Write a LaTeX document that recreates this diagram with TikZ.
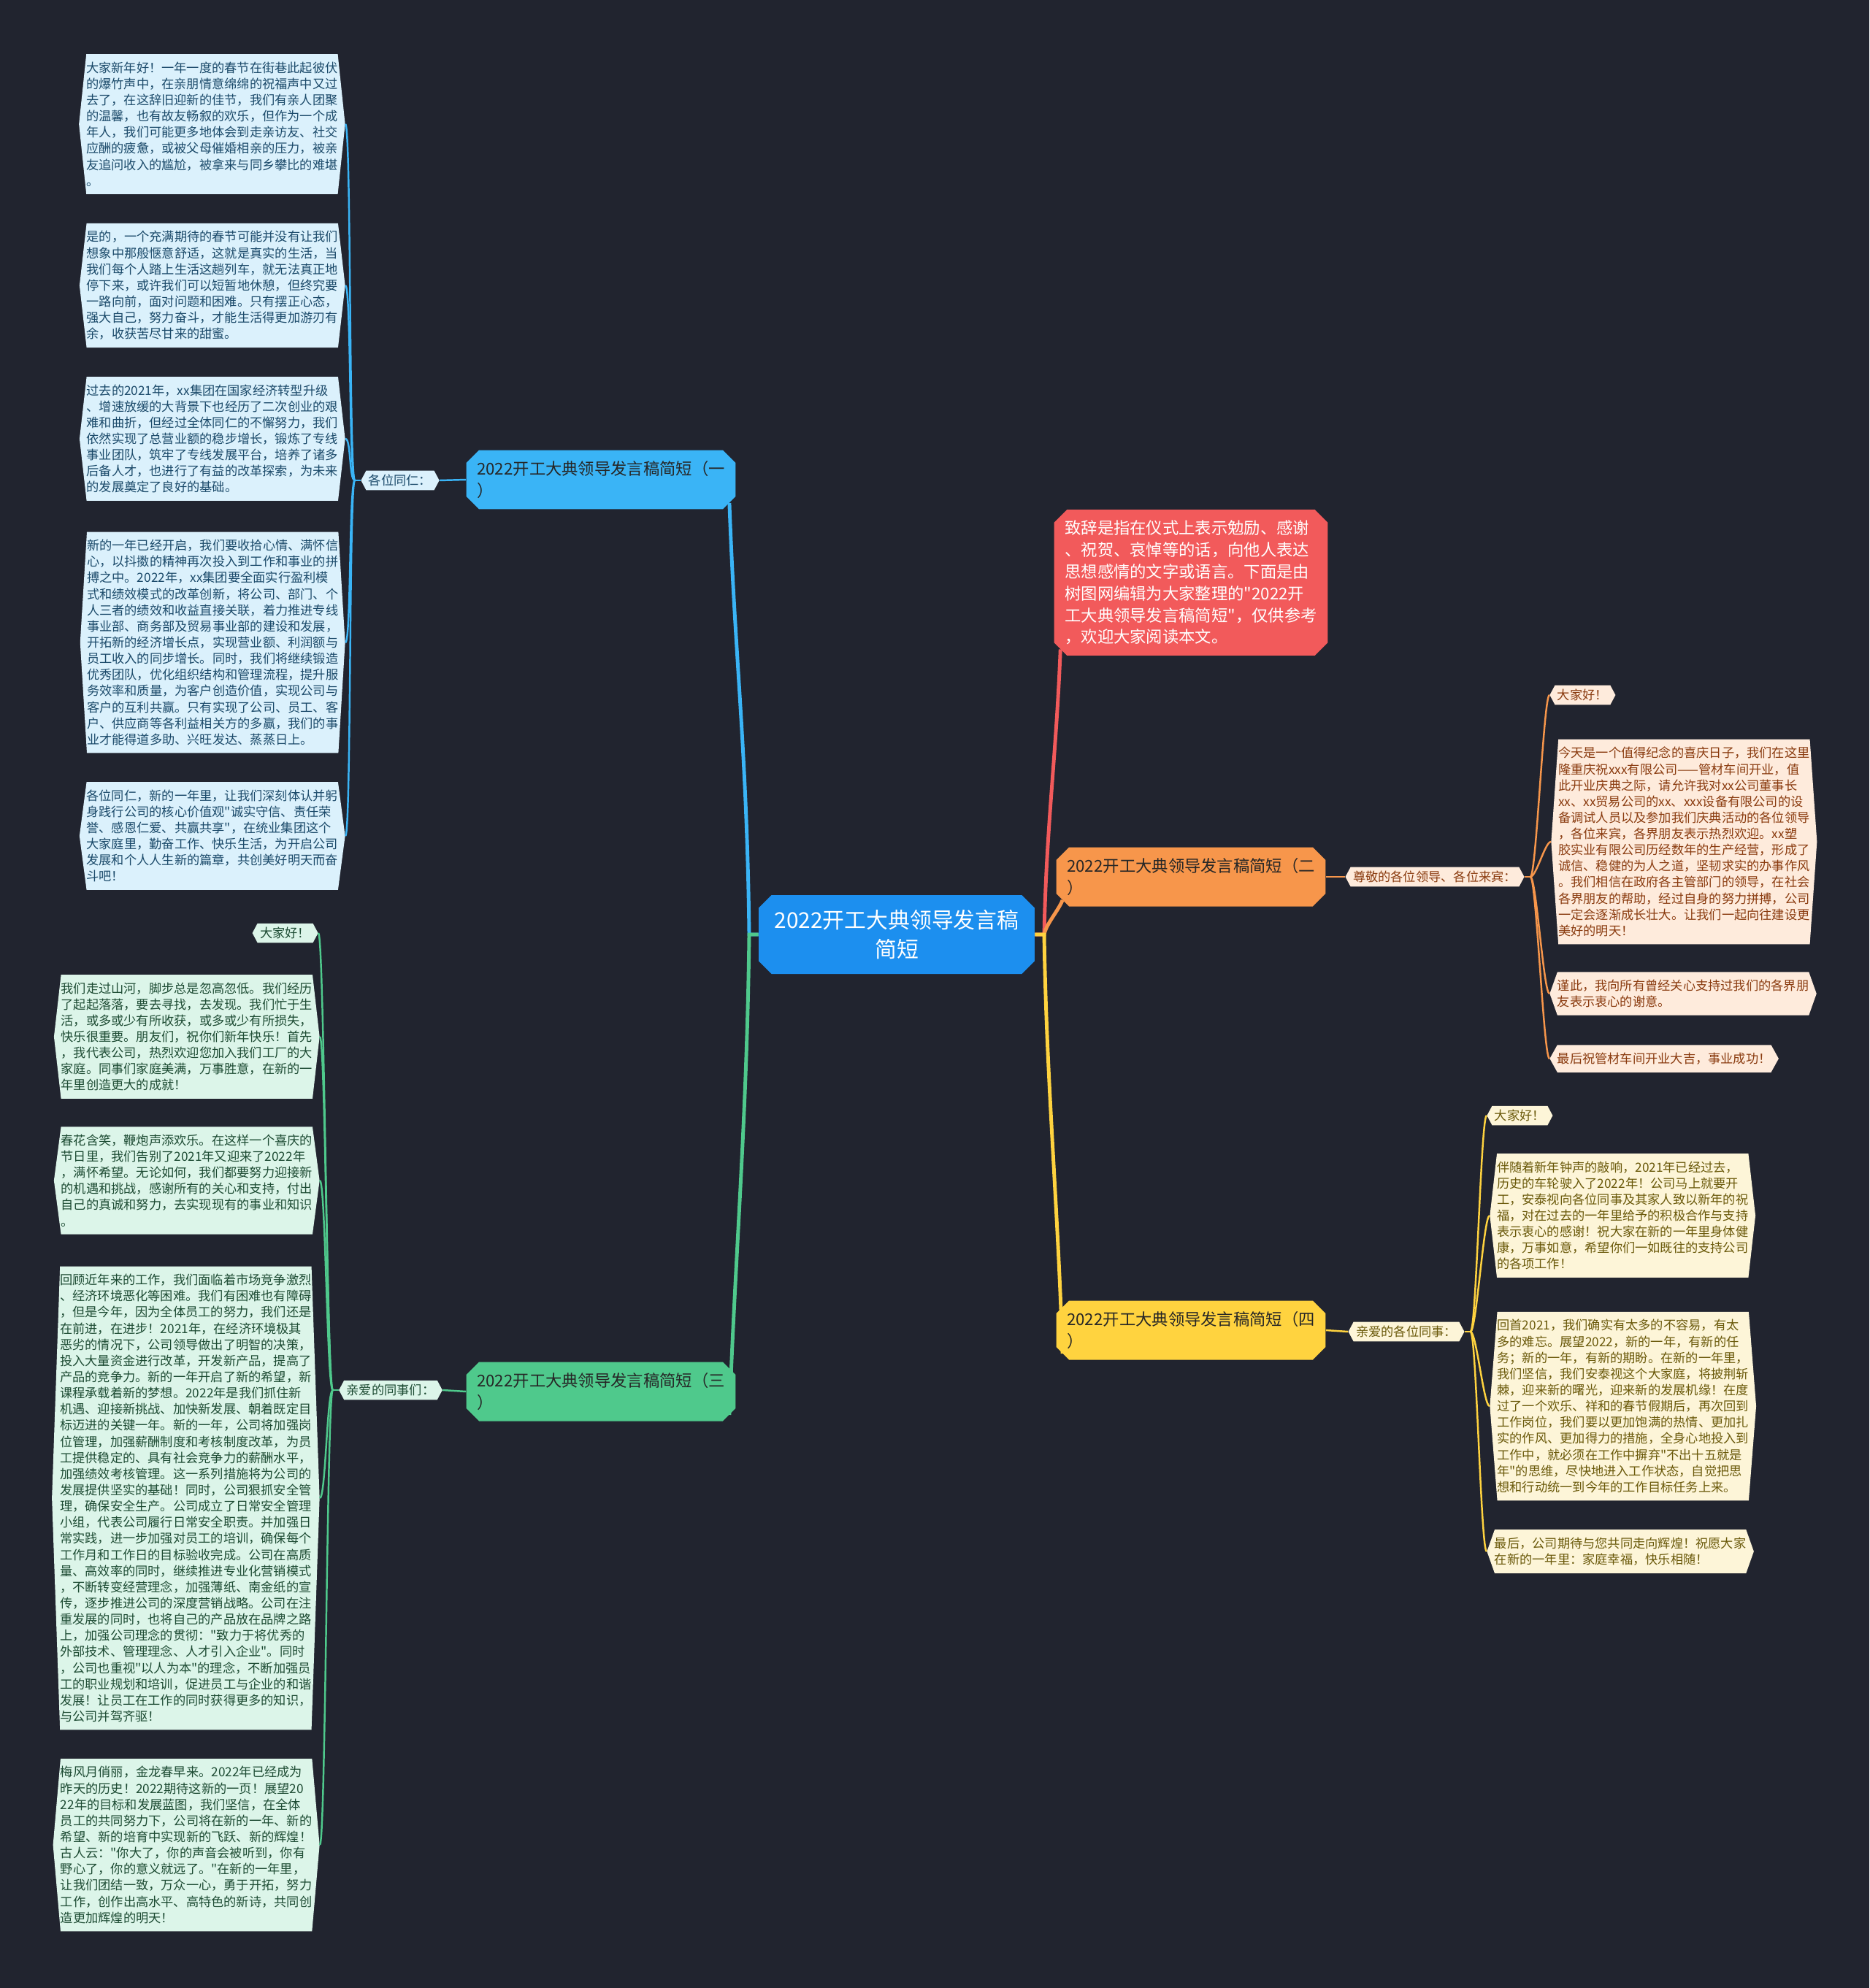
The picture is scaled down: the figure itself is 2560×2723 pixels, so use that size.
\documentclass[tikz,border=0pt]{standalone}
\usepackage{fontspec}
\setmainfont{Noto Sans CJK SC}[Ligatures=TeXOff]
\usepackage{tikz}
\usetikzlibrary{calc,shapes.misc,shapes.symbols}
\definecolor{bgdark}{HTML}{21242F}
\definecolor{rootblue}{HTML}{1C8FEF}
\definecolor{cBlue}{HTML}{3AB4F6}
\definecolor{cOrange}{HTML}{F7964B}
\definecolor{cRed}{HTML}{F25A5B}
\definecolor{cGreen}{HTML}{4FC98C}
\definecolor{cYellow}{HTML}{FFD33F}
\definecolor{fBlue}{HTML}{DBF1FC}
\definecolor{fGreen}{HTML}{DCF5E9}
\definecolor{fOrange}{HTML}{FEEBDC}
\definecolor{fYellow}{HTML}{FDF5D8}
\definecolor{tBlue}{HTML}{1B4A6A}
\definecolor{tGreen}{HTML}{1D4B33}
\definecolor{tOrange}{HTML}{8A3B0F}
\definecolor{tYellow}{HTML}{6A590A}
\newcommand{\leafsize}{\fontsize{9.8pt}{12.6pt}\selectfont}
\tikzset{
  root/.style   = {chamfered rectangle, chamfered rectangle xsep=5pt,
                   chamfered rectangle ysep=5pt, fill=rootblue, text=white,
                   font=\fontsize{17pt}{22.7pt}\selectfont, align=center,
                   minimum width=7.56cm, minimum height=2.16cm},
  branch/.style = {chamfered rectangle, chamfered rectangle xsep=5pt,
                   chamfered rectangle ysep=5pt, fill=#1, align=left,
                   font=\fontsize{12.7pt}{17pt}\selectfont, text=black!85,
                   minimum width=7.36cm, minimum height=1.62cm},
  leaf/.style n args = {3}{signal, signal to=east and west,
                   signal pointer angle=#1, fill=#2, text=#3,
                   font=\leafsize, align=left, inner xsep=0pt, inner ysep=6pt},
  tag/.style 2 args = {signal, signal to=east and west, signal pointer angle=124,
                   fill=#1, text=#2, font=\leafsize, inner xsep=2pt, inner ysep=3pt},
  link/.style   = {line width=2.8pt},
  twig/.style   = {line width=1.4pt},
}

\begin{document}
\begin{tikzpicture}[x=0.02cm,y=-0.02cm]
\useasboundingbox (0,0) rectangle (2560,2723);
\fill[bgdark] (0,0) rectangle (2560,2723);

% centre and main branches
\node[root] (root) at (1228,1280) {2022开工大典领导发言稿\\简短};
\node[branch=cBlue] (b1) at (823,657) {2022开工大典领导发言稿简短（一\\）};
\node[branch=cRed, text=white, minimum height=4cm] (note) at (1631,798)
  {致辞是指在仪式上表示勉励、感谢\\、祝贺、哀悼等的话，向他人表达\\思想感情的文字或语言。下面是由\\树图网编辑为大家整理的"2022开\\工大典领导发言稿简短"，仅供参考\\，欢迎大家阅读本文。};
\node[branch=cOrange] (b2) at (1631,1201) {2022开工大典领导发言稿简短（二\\）};
\node[branch=cGreen] (b3) at (823,1906) {2022开工大典领导发言稿简短（三\\）};
\node[branch=cYellow] (b4) at (1631,1822) {2022开工大典领导发言稿简短（四\\）};

\node[tag={fBlue}{tBlue}] (t1) at (548,658) {各位同仁：};
\node[tag={fOrange}{tOrange}] (t2) at (1965,1201) {尊敬的各位领导、各位来宾：};
\node[tag={fGreen}{tGreen}] (t3) at (535,1904) {亲爱的同事们：};
\node[tag={fYellow}{tYellow}] (t4) at (1926,1824) {亲爱的各位同事：};

% (一)
\node[leaf={168}{fBlue}{tBlue}, anchor=east] (a1) at (473,170)
  {大家新年好！一年一度的春节在街巷此起彼伏\\的爆竹声中，在亲朋情意绵绵的祝福声中又过\\去了，在这辞旧迎新的佳节，我们有亲人团聚\\的温馨，也有故友畅叙的欢乐，但作为一个成\\年人，我们可能更多地体会到走亲访友、社交\\应酬的疲惫，或被父母催婚相亲的压力，被亲\\友追问收入的尴尬，被拿来与同乡攀比的难堪\\。};
\node[leaf={167}{fBlue}{tBlue}, anchor=east] (a2) at (473,391)
  {是的，一个充满期待的春节可能并没有让我们\\想象中那般惬意舒适，这就是真实的生活，当\\我们每个人踏上生活这趟列车，就无法真正地\\停下来，或许我们可以短暂地休憩，但终究要\\一路向前，面对问题和困难。只有摆正心态，\\强大自己，努力奋斗，才能生活得更加游刃有\\余，收获苦尽甘来的甜蜜。};
\node[leaf={167}{fBlue}{tBlue}, anchor=east] (a3) at (473,601)
  {过去的2021年，xx集团在国家经济转型升级\\、增速放缓的大背景下也经历了二次创业的艰\\难和曲折，但经过全体同仁的不懈努力，我们\\依然实现了总营业额的稳步增长，锻炼了专线\\事业团队，筑牢了专线发展平台，培养了诸多\\后备人才，也进行了有益的改革探索，为未来\\的发展奠定了良好的基础。};
\node[leaf={173}{fBlue}{tBlue}, anchor=east] (a4) at (473,880)
  {新的一年已经开启，我们要收拾心情、满怀信\\心，以抖擞的精神再次投入到工作和事业的拼\\搏之中。2022年，xx集团要全面实行盈利模\\式和绩效模式的改革创新，将公司、部门、个\\人三者的绩效和收益直接关联，着力推进专线\\事业部、商务部及贸易事业部的建设和发展，\\开拓新的经济增长点，实现营业额、利润额与\\员工收入的同步增长。同时，我们将继续锻造\\优秀团队，优化组织结构和管理流程，提升服\\务效率和质量，为客户创造价值，实现公司与\\客户的互利共赢。只有实现了公司、员工、客\\户、供应商等各利益相关方的多赢，我们的事\\业才能得道多助、兴旺发达、蒸蒸日上。};
\node[leaf={165}{fBlue}{tBlue}, anchor=east] (a5) at (473,1145)
  {各位同仁，新的一年里，让我们深刻体认并躬\\身践行公司的核心价值观"诚实守信、责任荣\\誉、感恩仁爱、共赢共享"，在统业集团这个\\大家庭里，勤奋工作、快乐生活，为开启公司\\发展和个人人生新的篇章，共创美好明天而奋\\斗吧！};

% (三)
\node[tag={fGreen}{tGreen}, anchor=east] (g0) at (436,1278) {大家好！};
\node[leaf={167}{fGreen}{tGreen}, anchor=east] (g1) at (438,1420)
  {我们走过山河，脚步总是忽高忽低。我们经历\\了起起落落，要去寻找，去发现。我们忙于生\\活，或多或少有所收获，或多或少有所损失，\\快乐很重要。朋友们，祝你们新年快乐！首先\\，我代表公司，热烈欢迎您加入我们工厂的大\\家庭。同事们家庭美满，万事胜意，在新的一\\年里创造更大的成就！};
\node[leaf={165}{fGreen}{tGreen}, anchor=east] (g2) at (438,1617)
  {春花含笑，鞭炮声添欢乐。在这样一个喜庆的\\节日里，我们告别了2021年又迎来了2022年\\，满怀希望。无论如何，我们都要努力迎接新\\的机遇和挑战，感谢所有的关心和支持，付出\\自己的真诚和努力，去实现现有的事业和知识\\。};
\node[leaf={176}{fGreen}{tGreen}, anchor=east] (g3) at (438,2052)
  {回顾近年来的工作，我们面临着市场竞争激烈\\、经济环境恶化等困难。我们有困难也有障碍\\，但是今年，因为全体员工的努力，我们还是\\在前进，在进步！2021年，在经济环境极其\\恶劣的情况下，公司领导做出了明智的决策，\\投入大量资金进行改革，开发新产品，提高了\\产品的竞争力。新的一年开启了新的希望，新\\课程承载着新的梦想。2022年是我们抓住新\\机遇、迎接新挑战、加快新发展、朝着既定目\\标迈进的关键一年。新的一年，公司将加强岗\\位管理，加强薪酬制度和考核制度改革，为员\\工提供稳定的、具有社会竞争力的薪酬水平，\\加强绩效考核管理。这一系列措施将为公司的\\发展提供坚实的基础！同时，公司狠抓安全管\\理，确保安全生产。公司成立了日常安全管理\\小组，代表公司履行日常安全职责。并加强日\\常实践，进一步加强对员工的培训，确保每个\\工作月和工作日的目标验收完成。公司在高质\\量、高效率的同时，继续推进专业化营销模式\\，不断转变经营理念，加强薄纸、南金纸的宣\\传，逐步推进公司的深度营销战略。公司在注\\重发展的同时，也将自己的产品放在品牌之路\\上，加强公司理念的贯彻："致力于将优秀的\\外部技术、管理理念、人才引入企业"。同时\\，公司也重视"以人为本"的理念，不断加强员\\工的职业规划和培训，促进员工与企业的和谐\\发展！让员工在工作的同时获得更多的知识，\\与公司并驾齐驱！};
\node[leaf={170}{fGreen}{tGreen}, anchor=east] (g4) at (438,2527)
  {梅风月俏丽，金龙春早来。2022年已经成为\\昨天的历史！2022期待这新的一页！展望20\\22年的目标和发展蓝图，我们坚信，在全体\\员工的共同努力下，公司将在新的一年、新的\\希望、新的培育中实现新的飞跃、新的辉煌！\\古人云："你大了，你的声音会被听到，你有\\野心了，你的意义就远了。"在新的一年里，\\让我们团结一致，万众一心，勇于开拓，努力\\工作，创作出高水平、高特色的新诗，共同创\\造更加辉煌的明天！};

% (二)
\node[tag={fOrange}{tOrange}, anchor=west] (o0) at (2122,952) {大家好！};
\node[leaf={172}{fOrange}{tOrange}, anchor=west] (o1) at (2124,1153)
  {今天是一个值得纪念的喜庆日子，我们在这里\\隆重庆祝xxx有限公司——管材车间开业，值\\此开业庆典之际，请允许我对xx公司董事长\\xx、xx贸易公司的xx、xxx设备有限公司的设\\备调试人员以及参加我们庆典活动的各位领导\\，各位来宾，各界朋友表示热烈欢迎。xx塑\\胶实业有限公司历经数年的生产经营，形成了\\诚信、稳健的为人之道，坚韧求实的办事作风\\。我们相信在政府各主管部门的领导，在社会\\各界朋友的帮助，经过自身的努力拼搏，公司\\一定会逐渐成长壮大。让我们一起向往建设更\\美好的明天！};
\node[leaf={141}{fOrange}{tOrange}, anchor=west] (o2) at (2122,1361)
  {谨此，我向所有曾经关心支持过我们的各界朋\\友表示衷心的谢意。};
\node[leaf={122}{fOrange}{tOrange}, anchor=west] (o3) at (2122,1450)
  {最后祝管材车间开业大吉，事业成功！};

% (四)
\node[tag={fYellow}{tYellow}, anchor=west] (y0) at (2036,1528) {大家好！};
\node[leaf={167}{fYellow}{tYellow}, anchor=west] (y1) at (2040,1665)
  {伴随着新年钟声的敲响，2021年已经过去，\\历史的车轮驶入了2022年！公司马上就要开\\工，安泰视向各位同事及其家人致以新年的祝\\福，对在过去的一年里给予的积极合作与支持\\表示衷心的感谢！祝大家在新的一年里身体健\\康，万事如意，希望你们一如既往的支持公司\\的各项工作！};
\node[leaf={171}{fYellow}{tYellow}, anchor=west] (y2) at (2040,1926)
  {回首2021，我们确实有太多的不容易，有太\\多的难忘。展望2022，新的一年，有新的任\\务；新的一年，有新的期盼。在新的一年里，\\我们坚信，我们安泰视这个大家庭，将披荆斩\\棘，迎来新的曙光，迎来新的发展机缘！在度\\过了一个欢乐、祥和的春节假期后，再次回到\\工作岗位，我们要以更加饱满的热情、更加扎\\实的作风、更加得力的措施，全身心地投入到\\工作中，就必须在工作中摒弃"不出十五就是\\年"的思维，尽快地进入工作状态，自觉把思\\想和行动统一到今年的工作目标任务上来。};
\node[leaf={141}{fYellow}{tYellow}, anchor=west] (y3) at (2036,2125)
  {最后，公司期待与您共同走向辉煌！祝愿大家\\在新的一年里：家庭幸福，快乐相随！};

% connectors
\coordinate (lj) at (1026,1280);
\coordinate (rj) at (1430,1280);
\draw[link,cBlue] (root.west) -- (lj) .. controls +(-3,-250) and +(8,220) .. (b1.south east);
\draw[link,cGreen] (root.west) -- (lj) .. controls +(-3,250) and +(8,-220) .. (b3.south east);
\draw[link,cRed] (root.east) -- (rj) .. controls +(3,-150) and +(-6,150) .. (note.south west);
\draw[link,cOrange] (root.east) -- (rj) .. controls +(3,-15) and +(-6,15) .. (b2.south west);
\draw[link,cYellow] (root.east) -- (rj) .. controls +(3,200) and +(-6,-200) .. (b4.south west);

\draw[twig,cBlue] (b1.west) -- (t1.east);
\draw[twig,cOrange] (b2.east) -- (t2.west);
\draw[twig,cGreen] (b3.west) -- (t3.east);
\draw[twig,cYellow] (b4.east) -- (t4.west);

\coordinate (f1) at ($(t1.west)+(-8,0)$);
\coordinate (f2) at ($(t2.east)+(8,0)$);
\coordinate (f3) at ($(t3.west)+(-8,0)$);
\coordinate (f4) at ($(t4.east)+(8,0)$);
\draw[twig,cBlue] (t1.west) -- (f1);
\draw[twig,cOrange] (t2.east) -- (f2);
\draw[twig,cGreen] (t3.west) -- (f3);
\draw[twig,cYellow] (t4.east) -- (f4);
\foreach \n in {a1,a2,a3,a4,a5}
  \draw[twig,cBlue] (f1) .. controls +(-8,0) and +(8,0) .. (\n.east);
\foreach \n in {g0,g1,g2,g3,g4}
  \draw[twig,cGreen] (f3) .. controls +(-8,0) and +(8,0) .. (\n.east);
\foreach \n in {o0,o1,o2,o3}
  \draw[twig,cOrange] (f2) .. controls +(8,0) and +(-8,0) .. (\n.west);
\foreach \n in {y0,y1,y2,y3}
  \draw[twig,cYellow] (f4) .. controls +(8,0) and +(-8,0) .. (\n.west);
\end{tikzpicture}
\end{document}
